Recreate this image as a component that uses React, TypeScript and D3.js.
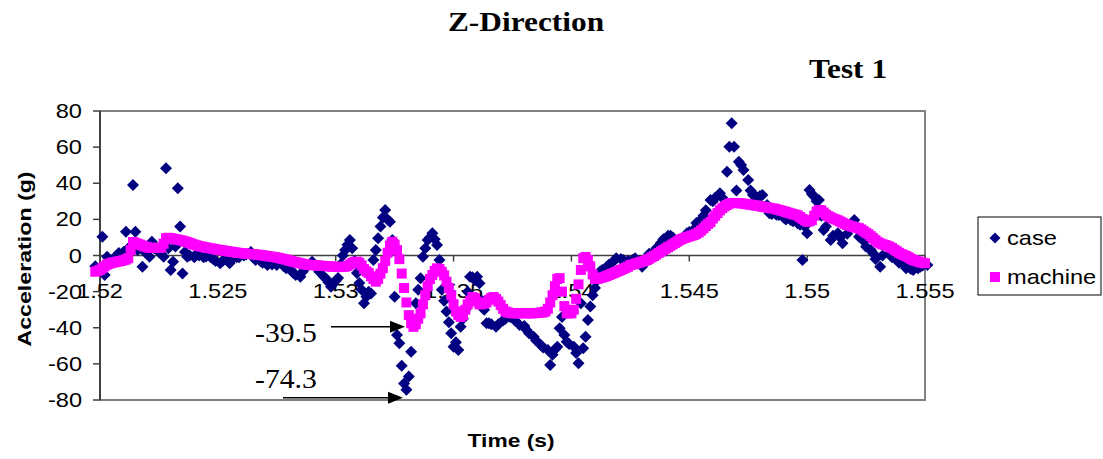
import React from "react";
import * as d3 from "d3";

// ---- data -------------------------------------------------------------
// Machine trace: one sample every 0.1 ms starting at 1.5198 s.
const machineStart = 1.5198;
const machineStep = 0.0001;
const machineAccel = [
  -9, -8.5, -8, -7, -6, -5, -4.5, -4, -3.8, -3.5,
  -3.2, -3, -2.6, -2.2, -1.5, 3, 7.5, 7, 6.5, 6,
  5.5, 5, 4.6, 4.3, 4.2, 4.2, 4.2, 4.2, 4.5, 6.5,
  9.5, 9.8, 9.6, 9.3, 9, 8.8, 8.5, 8.2, 7.8, 7.4,
  7, 6.4, 6, 5.6, 5.2, 5, 4.7, 4.4, 4.2, 4,
  3.7, 3.4, 3.2, 3, 2.8, 2.6, 2.4, 2.2, 2, 1.8,
  1.6, 1.4, 1.3, 1.2, 1, 0.9, 0.8, 0.7, 0.6, 0.4,
  0.3, 0.1, -0.1, -0.3, -0.5, -0.7, -0.9, -1.1, -1.4, -1.7,
  -2, -2.3, -2.7, -3, -3.4, -3.7, -4, -4.3, -4.6, -4.9,
  -5.1, -5.2, -5.3, -5.4, -5.5, -5.6, -5.7, -5.8, -5.9, -6,
  -6.1, -6.2, -6.3, -6.4, -6.4, -6.3, -6.2, -5.8, -5, -4.2,
  -3.6, -3.4, -4, -5.5, -7.5, -8.8, -9.7, -11.5, -13, -14.5,
  -13, -10, -7, -3, 1.5, 5.5, 7.6, 6, 3, -2,
  -10, -18, -26, -33, -37.5, -39.5, -38, -35, -32, -27,
  -22, -17, -13, -10.8, -8.5, -7.1, -7.5, -9, -11, -14.5,
  -18, -22, -27, -31, -33, -34, -33, -30, -27, -25,
  -23, -23.5, -25.5, -27, -27, -26.5, -26, -24.5, -23.5, -23,
  -24, -25.5, -27.5, -29.5, -31, -31.5, -31.8, -32, -32, -32,
  -32, -31.8, -32, -32, -32, -32, -32, -31.8, -31.8, -31.5,
  -31.5, -31, -29.5, -26, -22, -17, -13, -12.5, -20, -28,
  -32, -32, -32, -30, -24, -16, -8, -1.5, -0.8, -2.5,
  -6, -10.5, -13, -13, -12.5, -12.2, -11.8, -11.3, -10.8, -10.2,
  -9.7, -9.1, -8.6, -8, -7.4, -6.8, -6.2, -5.3, -5, -4.6,
  -4.2, -3.8, -3.4, -3, -2.5, -1.8, -1, -0.3, 0.5, 1.4,
  2.2, 3, 3.8, 4.6, 5.4, 6.2, 7, 7.8, 8.6, 9.2,
  9.7, 10.2, 10.6, 11, 11.4, 12, 12.8, 13.8, 15, 16.3,
  17.5, 18.5, 20.5, 22, 23.5, 25, 26.2, 27.2, 28, 28.7,
  29, 29.1, 29.1, 29, 28.9, 28.7, 28.5, 28.3, 28.1, 27.9,
  27.7, 27.5, 27.3, 27, 26.8, 26.6, 26.4, 26.1, 25.9, 25.6,
  25.2, 24.9, 24.5, 24.1, 23.7, 23.3, 22.9, 22.6, 22.2, 21.3,
  20.3, 19.4, 18.7, 18.9, 19.6, 22, 24.3, 25.2, 25, 23.8,
  22.6, 21.8, 21.1, 20.5, 20, 19.5, 18.8, 18.2, 17.5, 16.9,
  16.5, 16.1, 15.7, 15.4, 15.1, 14.4, 13.5, 12.6, 11.8, 10.7,
  9.6, 8.5, 7.4, 6.7, 6.2, 5.8, 5.4, 4.9, 4.1, 3.2,
  2.4, 1.5, 0.8, 0.2, -0.3, -1, -1.8, -2.5, -2.9, -3.3,
  -3.7, -4, -4.3,
];

// Case accelerometer: sample times (s) and accelerations (g).
const caseTime = [
  1.5198, 1.5199, 1.5201, 1.5202, 1.5203, 1.5205, 1.5206, 1.5207, 1.5208, 1.521,
  1.5211, 1.5212, 1.5214, 1.5215, 1.5216, 1.5218, 1.5219, 1.522, 1.5221, 1.5222,
  1.5223, 1.5225, 1.5226, 1.5227, 1.5228, 1.5229, 1.523, 1.5231, 1.5232, 1.5233,
  1.5234, 1.5235, 1.5236, 1.5237, 1.5238, 1.524, 1.5241, 1.5242, 1.5244, 1.5245,
  1.5247, 1.5248, 1.5249, 1.5251, 1.5252, 1.5253, 1.5255, 1.5256, 1.5258, 1.5259,
  1.5261, 1.5262, 1.5264, 1.5265, 1.5266, 1.5268, 1.5269, 1.5271, 1.5272, 1.5273,
  1.5275, 1.5276, 1.5278, 1.5279, 1.5281, 1.5282, 1.5283, 1.5285,
  1.5286, 1.5287, 1.5289, 1.529, 1.5292, 1.5293, 1.5295, 1.5296, 1.5297, 1.5298,
  1.53, 1.5301, 1.5302, 1.5303, 1.5304, 1.5305, 1.5306, 1.5307, 1.5308, 1.5309,
  1.531, 1.5311, 1.5312, 1.5313, 1.5314, 1.5315, 1.5316, 1.5317, 1.5318, 1.5319,
  1.532, 1.5321, 1.5322, 1.5323, 1.5324, 1.5325, 1.5326, 1.5327, 1.5328, 1.5329,
  1.533, 1.5331, 1.5332, 1.5334, 1.5335, 1.5336, 1.5337, 1.5338, 1.5339, 1.534,
  1.5341, 1.5342, 1.5343, 1.5344, 1.5345, 1.5346, 1.5347, 1.5348, 1.5349, 1.535,
  1.5351, 1.5352, 1.5353, 1.5354, 1.5355, 1.5356, 1.5357, 1.5358, 1.5359, 1.536,
  1.5361, 1.5362, 1.5363, 1.5364, 1.5365, 1.5366, 1.5368, 1.5369,
  1.5371, 1.5372, 1.5374, 1.5375, 1.5376, 1.5378, 1.538, 1.5381, 1.5382, 1.5384,
  1.5385, 1.5387, 1.5388, 1.539, 1.5391, 1.5392, 1.5393, 1.5394, 1.5395, 1.5396,
  1.5397, 1.5398, 1.5399, 1.5401, 1.5402, 1.5403, 1.5404, 1.5405, 1.5406, 1.5407,
  1.5408, 1.5409, 1.541, 1.5411, 1.5412, 1.5413, 1.5415, 1.5416, 1.5418, 1.5419,
  1.5421, 1.5422, 1.5424, 1.5425, 1.5426, 1.5427, 1.5429, 1.543, 1.5432, 1.5433,
  1.5435, 1.5436, 1.5438, 1.5439, 1.5441, 1.5442, 1.5443, 1.5445, 1.5446, 1.5447,
  1.5449, 1.545, 1.5452, 1.5453, 1.5455,
  1.5456, 1.5457, 1.5459, 1.546, 1.5461, 1.5463, 1.5464, 1.5466, 1.5467, 1.5468,
  1.5469, 1.547, 1.5471, 1.5472, 1.5473, 1.5475, 1.5476, 1.5477, 1.5478, 1.5479,
  1.548, 1.5481, 1.5483, 1.5484, 1.5485, 1.5487, 1.5488, 1.549, 1.5491, 1.5493,
  1.5494, 1.5496, 1.5497, 1.5498, 1.5499, 1.55, 1.5501, 1.5502, 1.5503, 1.5504,
  1.5505, 1.5506, 1.5507, 1.5508, 1.551, 1.5511, 1.5513, 1.5514, 1.5515, 1.5517,
  1.5518, 1.552, 1.5521, 1.5522, 1.5524, 1.5525, 1.5527, 1.5528, 1.5529, 1.5531,
  1.5532, 1.5534, 1.5535, 1.5536, 1.5538, 1.5539, 1.5541, 1.5542, 1.5544, 1.5545,
  1.5547, 1.5548, 1.5549, 1.5551,
];
const caseAccel = [
  -6, -8, 10.4, -10.8, -0.7, -3, -2, 0, 1.4, 2,
  13.2, 4, 39, 13.2, 3, -6.2, 2, 3, -0.7, 7.6,
  4, 2, 1, -0.7, 48.3, 4, -8, -3.4, 5, 37.2,
  16, -9.9, 2, -0.7, 0, -1, 1, 0, -1, -0.5,
  -1, -2, -3, -4.3, -3, -2, -4.3, -2, -1, -1,
  0, 0.5, 2, -1, -2.5, -3, -4, -5.3, -4, -5,
  -5.3, -2.5, -6, -7, -8, -9.7, -10.8, -11.7,
  -9, -7, -5, -3.4, -6, -9, -11.7, -13, -15, -17.3,
  -14, -12.5, -5, 0, 3, 6, 8.6, 4, -3, -9.7,
  -15.2, -19, -26.5, -22.8, -20, -21, -2.5, 3, 9.5, 16,
  21, 25.2, 20, 18.7, 8.6, -22.8, -44, -48.6, -61, -70.8,
  -74.3, -67, -53.3, -26.5, -19, -12.6, -0.7, 4, 8.6, 10,
  12.3, 9, 5.8, -2.5, -19, -25, -31, -37, -43, -50.5,
  -48, -52.3, -39.4, -35, -30, -20, -11.7, -12, -13.6, -11.7,
  -15.4, -25, -30, -37.5, -37.5, -38, -39.4, -38,
  -36, -35, -34, -34, -36, -38.5, -39, -41.3, -43, -45,
  -47, -49.6, -51, -52.3, -60.6, -55, -52, -50.5, -40.3, -34,
  -44, -47.7, -49, -50.5, -54, -59.7, -26.5, -51.4, -45, -35.7,
  -28.3, -22, -18, -13.6, -9, -8, -6.2, -5, -3, -1.5,
  -2, -2.5, -3, -3.5, -2.5, -1.5, -3, -6.2, -1, 1,
  2, 4, 7, 9, 11, 11, 10, 8.5, 8, 9.5,
  12.3, 13, 14.5, 18, 20,
  22, 25, 30.7, 30, 32, 34.4, 32, 46.4, 60.2, 73.2,
  60.2, 36, 51.9, 50.1, 47.3, 41.8, 36, 33.5, 33, 32,
  33, 33.5, 28, 23.4, 23, 22.5, 22.4, 21, 20, 19.6,
  19, 17.8, 17, -2.5, 16, 12.3, 36.3, 34, 32.6, 30,
  30.7, 22, 14.1, 16, 8.6, 11, 12.3, 10, 6.8, 12,
  17, 19.6, 15, 10.4, 8, 4.9, 3, 1.2, -2, -6.2,
  0, 4.9, 1, -1, -2.5, -4, -5, -7, -7.5, -8,
  -7, -6.2, -5.5, -5.3,
];

const xTicks = [1.52, 1.525, 1.53, 1.535, 1.54, 1.545, 1.55, 1.555];
const yTicks = [-80, -60, -40, -20, 0, 20, 40, 60, 80];
const seriesNames = ["case", "machine"];
const seriesColors = ["#000080", "#FF00FF"];

// ---- layout -----------------------------------------------------------
const W = 1103;
const H = 459;
const plot = { left: 100, right: 925, top: 111, bottom: 400 };
const SANS = "Arial, 'Liberation Sans', sans-serif";
const SERIF = "'Times New Roman', 'Liberation Serif', serif";
const DIAMOND_R = 6;
const SQUARE = 10;

const x = d3.scaleLinear().domain([1.52, 1.555]).range([plot.left, plot.right]);
const y = d3.scaleLinear().domain([-80, 80]).range([plot.bottom, plot.top]);

const machineTime = machineAccel.map((_, i) => machineStart + i * machineStep);

function diamondPath(cx: number, cy: number, r: number) {
  return `M${cx},${cy - r}L${cx + r},${cy}L${cx},${cy + r}L${cx - r},${cy}Z`;
}

type TProps = {
  x: number;
  y: number;
  anchor?: string;
  sx?: number;
  size?: number;
  weight?: string | number;
  family?: string;
  rotate?: number;
  children: React.ReactNode;
};

// Text drawn slightly widened, like the chart's stretched lettering.
function SText({ x, y, anchor = "start", sx = 1.18, size = 20, weight = "normal", family = SANS, rotate = 0, children }: TProps) {
  return (
    <text
      transform={`translate(${x},${y}) rotate(${rotate}) scale(${sx},1)`}
      textAnchor={anchor as any}
      fontSize={size}
      fontWeight={weight}
      fontFamily={family}
      fill="#000"
    >
      {children}
    </text>
  );
}

function Arrow({ x1, x2, yy }: { x1: number; x2: number; yy: number }) {
  const len = 15;
  const half = 6;
  return (
    <g>
      <line x1={x1} x2={x2 - len + 1} y1={yy} y2={yy} stroke="#000" strokeWidth={1.5} />
      <path d={`M${x2},${yy}L${x2 - len},${yy - half}L${x2 - len},${yy + half}Z`} fill="#000" />
    </g>
  );
}

export default function App() {
  const y0 = y(0);
  const caseMin = d3.min(caseAccel) as number;
  const machineMin = d3.min(machineAccel) as number;
  const fmtX = (t: number) => String(+t.toFixed(3));

  return (
    <svg
      width={W}
      height={H}
      viewBox={`0 0 ${W} ${H}`}
      style={{ position: "absolute", left: 0, top: 0, background: "#fff" }}
    >
      <rect x={0} y={0} width={W} height={H} fill="#fff" />

      {/* titles */}
      <SText x={526} y={31} anchor="middle" size={28} weight="bold" family={SERIF} sx={1.12}>
        Z-Direction
      </SText>
      <SText x={848} y={78} anchor="middle" size={28} weight="bold" family={SERIF} sx={1.12}>
        Test 1
      </SText>

      {/* plot frame */}
      <rect
        x={plot.left}
        y={plot.top}
        width={plot.right - plot.left}
        height={plot.bottom - plot.top}
        fill="none"
        stroke="#808080"
        strokeWidth={2}
      />

      {/* y axis */}
      <line x1={plot.left} x2={plot.left} y1={plot.top} y2={plot.bottom} stroke="#404040" strokeWidth={2} />
      {yTicks.map((v) => (
        <g key={`y${v}`}>
          <line x1={plot.left - 7} x2={plot.left} y1={y(v)} y2={y(v)} stroke="#404040" strokeWidth={1.5} />
          <SText x={82} y={y(v) + 7} anchor="end">
            {String(v)}
          </SText>
        </g>
      ))}

      {/* x axis through zero */}
      <line x1={plot.left} x2={plot.right} y1={y0} y2={y0} stroke="#404040" strokeWidth={1.5} />
      {xTicks.map((t) => (
        <g key={`x${t}`}>
          <line x1={x(t)} x2={x(t)} y1={y0} y2={y0 + 6} stroke="#404040" strokeWidth={1.5} />
          <SText x={x(t)} y={y0 + 42} anchor="middle">
            {fmtX(t)}
          </SText>
        </g>
      ))}

      {/* case points */}
      <g fill={seriesColors[0]}>
        {caseAccel.map((v, i) => (
          <path key={`c${i}`} d={diamondPath(x(caseTime[i]), y(v), DIAMOND_R)} />
        ))}
      </g>

      {/* machine points */}
      <g fill={seriesColors[1]}>
        {machineAccel.map((v, i) => (
          <rect
            key={`m${i}`}
            x={x(machineTime[i]) - SQUARE / 2}
            y={y(v) - SQUARE / 2}
            width={SQUARE}
            height={SQUARE}
          />
        ))}
      </g>

      {/* axis titles */}
      <SText x={511} y={447} anchor="middle" size={19} weight="bold" sx={1.2}>
        Time (s)
      </SText>
      <SText x={31} y={259} anchor="middle" size={19} weight="bold" sx={1.22} rotate={-90}>
        Acceleration (g)
      </SText>

      {/* minimum annotations */}
      <SText x={255} y={y(machineMin) + 15} size={27} family={SERIF} sx={1.1}>
        {String(machineMin)}
      </SText>
      <Arrow x1={331} x2={405} yy={y(machineMin)} />
      <SText x={255} y={y(caseMin) - 2} size={27} family={SERIF} sx={1.1}>
        {String(caseMin)}
      </SText>
      <Arrow x1={283} x2={403} yy={y(caseMin) + 8} />

      {/* legend */}
      <rect x={978} y={217} width={123} height={78} fill="#fff" stroke="#000" strokeWidth={1} />
      <path d={diamondPath(995, 238, 5.5)} fill={seriesColors[0]} />
      <SText x={1007} y={245}>{seriesNames[0]}</SText>
      <rect x={990} y={272} width={10} height={10} fill={seriesColors[1]} />
      <SText x={1007} y={284}>{seriesNames[1]}</SText>
    </svg>
  );
}
